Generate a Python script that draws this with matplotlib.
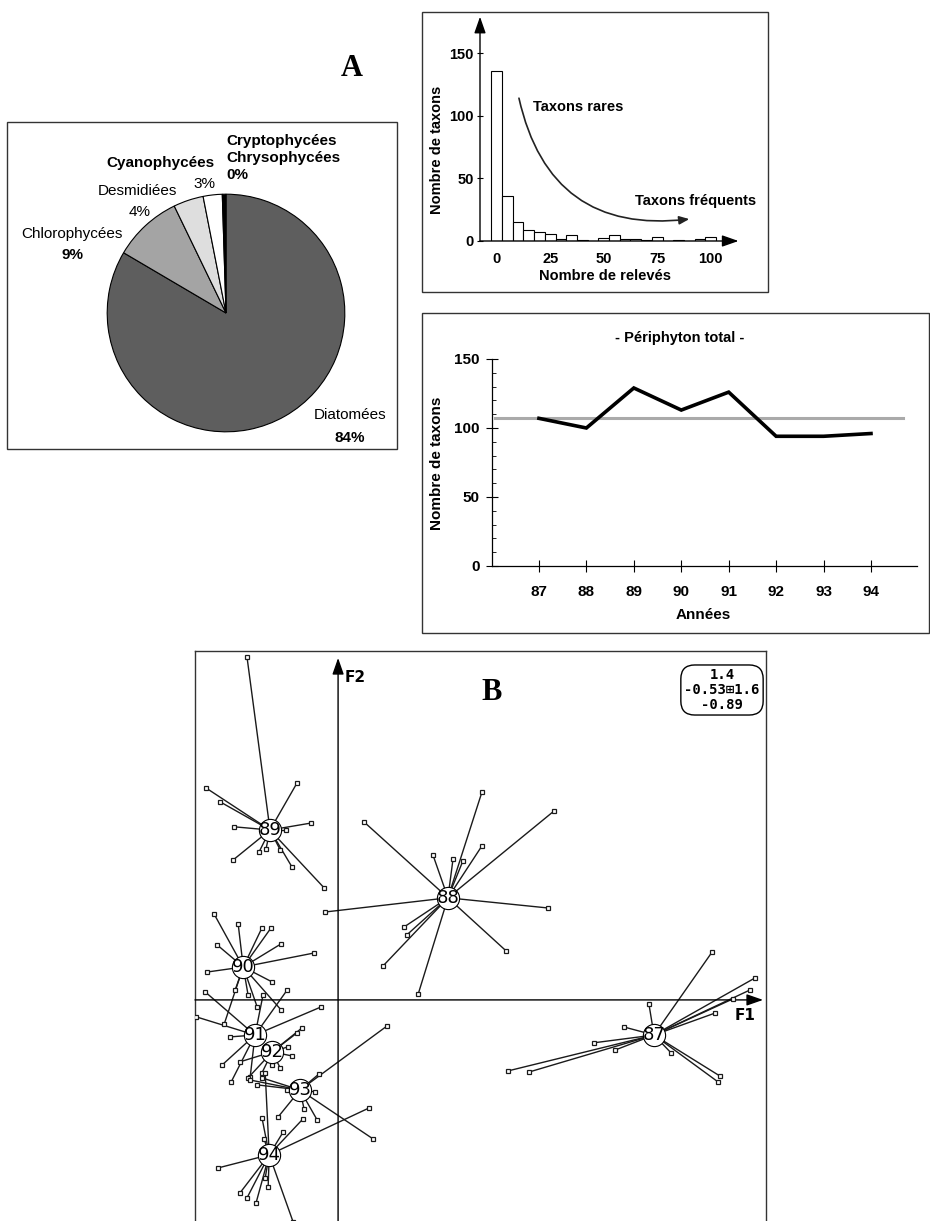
import matplotlib
matplotlib.use('Agg')
import matplotlib.pyplot as plt
from matplotlib.patches import Rectangle
from matplotlib.ticker import MultipleLocator

W, H = 930, 1221

# ---------------- data ----------------
pie_labels = ['Diatomées', 'Chlorophycées', 'Desmidiées', 'Cyanophycées',
              'Cryptophycées\nChrysophycées']
pie_pct_text = ['84%', '9%', '4%', '3%', '0%']
pie_shares = [83.8, 9.4, 4.1, 2.6, 0.5]
pie_colors = ['#5e5e5e', '#a4a4a4', '#dedede', '#ffffff', '#000000']

hist_centers = [0, 5, 10, 15, 20, 25, 30, 35, 40, 45, 50, 55, 60, 65, 70,
                75, 80, 85, 90, 95, 100]
hist_counts = [136, 36, 15, 9, 7.5, 5.5, 1.5, 4.5, 1, 0.3, 2.7, 4.8, 1.9, 1.9,
               0.8, 2.9, 0.3, 0.8, 0.2, 1.9, 2.9]

years = [87, 88, 89, 90, 91, 92, 93, 94]
n_taxa = [107, 100, 129, 113, 126, 94, 94, 96]
mean_taxa = 107

group_years = ['87', '88', '89', '90', '91', '92', '93', '94']
cent_f1 = [1.179, 0.410, -0.254, -0.354, -0.310, -0.246, -0.142, -0.257]
cent_f2 = [-0.131, 0.381, 0.634, 0.123, -0.131, -0.194, -0.336, -0.578]

s87_f1 = [1.396, 1.160, 1.067, 0.955, 0.634, 0.713, 1.034, 1.243, 1.425, 1.418, 1.474, 1.407, 1.556, 1.537]
s87_f2 = [0.179, -0.015, -0.101, -0.160, -0.265, -0.269, -0.187, -0.198, -0.284, -0.306, 0.004, -0.049, 0.082, 0.037]
s88_f1 = [0.537, 0.806, 0.097, 0.537, 0.354, 0.429, 0.466, -0.049, 0.784, 0.627, 0.246, 0.257, 0.168, 0.299]
s88_f2 = [0.776, 0.705, 0.664, 0.575, 0.541, 0.526, 0.519, 0.328, 0.343, 0.183, 0.272, 0.243, 0.127, 0.022]
s89_f1 = [-0.340, -0.493, -0.440, -0.153, -0.101, -0.194, -0.388, -0.392, -0.295, -0.269, -0.172, -0.052, -0.216]
s89_f2 = [1.280, 0.791, 0.739, 0.810, 0.660, 0.634, 0.646, 0.522, 0.552, 0.563, 0.496, 0.418, 0.560]
s90_f1 = [-0.463, -0.373, -0.284, -0.250, -0.451, -0.213, -0.090, -0.489, -0.384, -0.336, -0.425, -0.246, -0.302, -0.213]
s90_f2 = [0.321, 0.284, 0.269, 0.269, 0.205, 0.209, 0.175, 0.104, 0.037, 0.019, -0.090, 0.067, -0.026, -0.037]
s91_f1 = [-0.496, -0.530, -0.063, -0.403, -0.190, -0.433, -0.399, -0.328, -0.280]
s91_f2 = [0.030, -0.063, -0.026, -0.138, 0.037, -0.243, -0.306, -0.287, 0.019]
s92_f1 = [-0.134, -0.153, -0.187, -0.172, -0.336, -0.284, -0.246, -0.366, -0.216]
s92_f2 = [-0.104, -0.123, -0.175, -0.209, -0.291, -0.272, -0.243, -0.231, -0.254]
s93_f1 = [0.183, -0.071, 0.131, -0.078, -0.127, -0.086, -0.190, -0.284, -0.302, -0.328, -0.224]
s93_f2 = [-0.097, -0.276, -0.519, -0.448, -0.407, -0.343, -0.336, -0.291, -0.317, -0.299, -0.437]
s94_f1 = [-0.448, 0.116, -0.284, -0.276, -0.131, -0.272, -0.366, -0.340, -0.306, -0.261, -0.168, -0.272, -0.205]
s94_f2 = [-0.627, -0.403, -0.440, -0.519, -0.444, -0.272, -0.720, -0.739, -0.757, -0.698, -0.828, -0.664, -0.493]

samples_f1 = [s87_f1, s88_f1, s89_f1, s90_f1, s91_f1, s92_f1, s93_f1, s94_f1]
samples_f2 = [s87_f2, s88_f2, s89_f2, s90_f2, s91_f2, s92_f2, s93_f2, s94_f2]

window_text = '1.4\n-0.53\u229e1.6\n-0.89'

# ---------------- helpers ----------------
fig = plt.figure(figsize=(9.3, 12.21), dpi=100)
fig.patch.set_facecolor('white')
SANS = 'Liberation Sans'


def rect(x0, y0, x1, y1):
    return [x0 / W, 1 - y1 / H, (x1 - x0) / W, (y1 - y0) / H]


def ftext(x, y, s, **kw):
    kw.setdefault('ha', 'center')
    kw.setdefault('va', 'center')
    kw.setdefault('family', SANS)
    return fig.text(x / W, 1 - y / H, s, **kw)


def box(x0, y0, x1, y1, lw=1.0):
    fig.add_artist(Rectangle((x0 / W, 1 - y1 / H), (x1 - x0) / W, (y1 - y0) / H,
                             transform=fig.transFigure, fill=False,
                             edgecolor='#333333', linewidth=lw))


# ---------------- panel boxes ----------------
box(7, 122, 397, 449)
box(422, 12, 768, 292)
box(422, 313, 929, 633)

ftext(352, 68, 'A', family='Liberation Serif', fontweight='bold', fontsize=22)

# ---------------- pie ----------------
axp = fig.add_axes(rect(106, 193, 346, 433))
axp.pie(pie_shares, colors=pie_colors, startangle=90, counterclock=False,
        wedgeprops=dict(edgecolor='black', linewidth=0.8))
axp.set_xlim(-1.01, 1.01)
axp.set_ylim(-1.01, 1.01)
axp.set_aspect('equal')
axp.axis('off')

ftext(350, 415, pie_labels[0], fontsize=11)
ftext(350, 438, pie_pct_text[0], fontsize=11, fontweight='bold')
ftext(72, 234, pie_labels[1], fontsize=11)
ftext(72, 255, pie_pct_text[1], fontsize=11, fontweight='bold')
ftext(137, 191, pie_labels[2], fontsize=11)
ftext(140, 212, pie_pct_text[2], fontsize=11)
ftext(160, 163, pie_labels[3], fontsize=11, fontweight='bold')
ftext(204, 184, pie_pct_text[3], fontsize=11)
ftext(226, 158, pie_labels[4] + '\n' + pie_pct_text[4], fontsize=11,
      fontweight='bold', ha='left', linespacing=1.25)

# ---------------- histogram ----------------
axh = fig.add_axes(rect(480, 18, 740, 241))
axh.bar(hist_centers, hist_counts, width=5, facecolor='white',
        edgecolor='black', linewidth=0.8, zorder=2)
axh.set_xlim(-7.8, 113.7)
axh.set_ylim(0, 178)
for sp in axh.spines.values():
    sp.set_visible(False)
axh.patch.set_alpha(0)
axh.set_yticks([0, 50, 100, 150])
axh.set_xticks([0, 25, 50, 75, 100])
axh.tick_params(axis='y', direction='inout', length=5, width=0.8, pad=2,
                labelsize=10.5)
axh.tick_params(axis='x', length=0, pad=8, labelsize=10.5)
for lab in axh.get_xticklabels() + axh.get_yticklabels():
    lab.set_family(SANS)
    lab.set_fontweight('bold')
axh.annotate('', xy=(113, 0), xytext=(-7.8, 0), annotation_clip=False,
             arrowprops=dict(arrowstyle='-|>,head_length=1.0,head_width=0.35',
                             color='black', lw=1, shrinkA=0, shrinkB=0))
axh.annotate('', xy=(-7.8, 179), xytext=(-7.8, 0), annotation_clip=False,
             arrowprops=dict(arrowstyle='-|>,head_length=1.0,head_width=0.35',
                             color='black', lw=1, shrinkA=0, shrinkB=0))
axh.annotate('', xy=(90, 17.5), xytext=(10.4, 114), annotation_clip=False,
             arrowprops=dict(arrowstyle='-|>,head_length=0.6,head_width=0.25',
                             connectionstyle='arc3,rad=0.45', color='#222222',
                             lw=1.2, shrinkA=0, shrinkB=0))
ftext(578, 107, 'Taxons rares', fontsize=10.5, fontweight='bold')
ftext(696, 201, 'Taxons fréquents', fontsize=10.5, fontweight='bold')
ftext(605, 276, 'Nombre de relevés', fontsize=10.5, fontweight='bold')
ftext(437, 150, 'Nombre de taxons', fontsize=10.5, fontweight='bold', rotation=90)

# ---------------- line chart ----------------
axl = fig.add_axes(rect(492, 359, 917, 566))
axl.plot([86.07, 94.68], [mean_taxa, mean_taxa], color='#aaaaaa', lw=2.2,
         zorder=1)
axl.plot(years, n_taxa, color='black', lw=2.6, zorder=2,
         solid_joinstyle='miter')
axl.set_xlim(86.01, 94.97)
axl.set_ylim(0, 150)
axl.spines['top'].set_visible(False)
axl.spines['right'].set_visible(False)
axl.spines['left'].set_linewidth(0.9)
axl.spines['bottom'].set_linewidth(0.9)
axl.set_xticks(years)
axl.set_yticks([0, 50, 100, 150])
axl.yaxis.set_minor_locator(MultipleLocator(10))
axl.tick_params(axis='y', which='major', direction='inout', length=8,
                width=0.8, pad=5, labelsize=11)
axl.tick_params(axis='y', which='minor', direction='in', length=3, width=0.6)
axl.tick_params(axis='x', direction='inout', length=8, width=0.8, pad=10,
                labelsize=11)
for lab in axl.get_xticklabels() + axl.get_yticklabels():
    lab.set_family(SANS)
    lab.set_fontweight('bold')
ftext(680, 338, '- Périphyton total -', fontsize=10.5, fontweight='bold')
ftext(703, 615, 'Années', fontsize=11, fontweight='bold')
ftext(437, 463, 'Nombre de taxons', fontsize=11, fontweight='bold', rotation=90)

# ---------------- panel B ----------------
axb = fig.add_axes(rect(195, 651, 766, 1221))
axb.set_xlim(-0.534, 1.597)
axb.set_ylim(-0.825, 1.302)
axb.set_xticks([])
axb.set_yticks([])
axb.spines['bottom'].set_visible(False)
for s in ['left', 'top', 'right']:
    axb.spines[s].set_linewidth(1.0)
    axb.spines[s].set_color('#333333')

axb.annotate('', xy=(1.586, 0), xytext=(-0.534, 0), annotation_clip=False,
             arrowprops=dict(arrowstyle='-|>,head_length=1.0,head_width=0.35',
                             color='black', lw=1, shrinkA=0, shrinkB=0))
axb.annotate('', xy=(0, 1.276), xytext=(0, -0.825), annotation_clip=False,
             arrowprops=dict(arrowstyle='-|>,head_length=1.0,head_width=0.35',
                             color='black', lw=1, shrinkA=0, shrinkB=0))

for g in range(len(group_years)):
    cx, cy = cent_f1[g], cent_f2[g]
    for px, py in zip(samples_f1[g], samples_f2[g]):
        axb.plot([cx, px], [cy, py], color='#1a1a1a', lw=1.0, zorder=2)
    axb.plot(samples_f1[g], samples_f2[g], 's', ms=3, mfc='white',
             mec='#1a1a1a', mew=0.9, zorder=3, ls='none')
    axb.plot(cx, cy, 'o', ms=16, mfc='white', mec='black', mew=0.8, zorder=4)
    axb.text(cx, cy, group_years[g], ha='center', va='center', fontsize=13,
             family='DejaVu Sans', zorder=5)

ftext(355, 678, 'F2', fontsize=11, fontweight='bold', family='DejaVu Sans')
ftext(745, 1015, 'F1', fontsize=11, fontweight='bold', family='DejaVu Sans')
ftext(492, 692, 'B', fontsize=22, fontweight='bold', family='Liberation Serif')
ftext(722, 690, window_text, fontsize=10, fontweight='bold',
      family=['DejaVu Sans Mono', 'DejaVu Sans'], linespacing=1.05,
      multialignment='center',
      bbox=dict(boxstyle='round,pad=0.25,rounding_size=1.0', fc='white',
                ec='black', lw=1.0))

fig.savefig('out.png', dpi=100, facecolor='white')
